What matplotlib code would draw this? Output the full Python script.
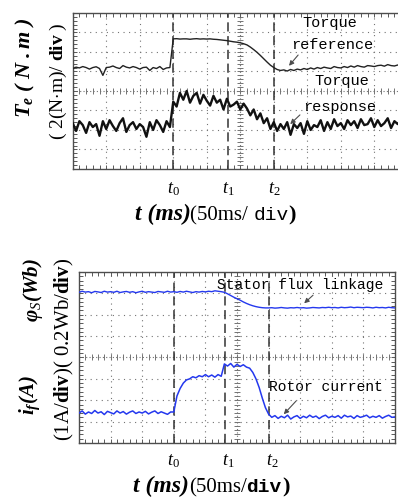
import numpy as np
import matplotlib
matplotlib.use("Agg")
import matplotlib.pyplot as plt

plt.rcParams["mathtext.fontset"] = "custom"
plt.rcParams["mathtext.rm"] = "Liberation Serif"
plt.rcParams["mathtext.it"] = "Liberation Serif:italic"
plt.rcParams["mathtext.bf"] = "Liberation Serif:bold"
plt.rcParams["mathtext.bfit"] = "Liberation Serif:italic:bold"

SERIF = "Liberation Serif"
MONO = "Liberation Mono"

# --- scope traces, in divisions (0 = bottom, 8 = top), sampled every 0.1 div ---
torque_ref = [
    5.15, 5.22, 5.18, 5.25, 5.20, 5.12, 5.20, 5.24, 5.15, 4.80,
    5.20, 5.22, 5.28, 5.20, 5.15, 5.30, 5.22, 5.18, 5.25, 5.20,
    5.12, 5.20, 5.22, 5.05, 5.20, 5.15, 5.25, 5.10, 5.18, 5.20,
    6.67, 6.68, 6.66, 6.67, 6.67, 6.65, 6.67, 6.68, 6.66, 6.67,
    6.66, 6.67, 6.65, 6.64, 6.62, 6.60, 6.58, 6.55, 6.52, 6.50,
    6.47, 6.42, 6.36, 6.25, 6.12, 5.98, 5.82, 5.65, 5.48, 5.32,
    5.20, 5.10, 5.05, 5.08, 5.02, 5.10, 5.05, 5.12, 5.08, 5.15,
    5.10, 5.18, 5.12, 5.20, 5.15, 5.22, 5.18, 5.15, 5.25, 5.20,
    5.18, 5.25, 5.20, 5.28, 5.22, 5.30, 5.25, 5.22, 5.30, 5.28,
    5.25, 5.30, 5.32, 5.27, 5.35, 5.30, 5.28, 5.33, 5.30, 5.35,
    5.30,
]
torque_resp = [
    2.35, 1.95, 2.45, 2.25, 1.85, 2.40, 2.15, 2.30, 1.70, 2.45,
    2.05, 2.50, 2.20, 1.95, 2.35, 2.60, 1.90, 2.25, 2.40, 2.05,
    2.30, 2.15, 1.65, 2.40, 2.00, 2.50, 2.25, 1.90, 2.45, 2.15,
    3.45, 3.20, 3.90, 3.55, 4.00, 3.40, 3.75, 3.90, 3.35, 3.80,
    3.50, 3.25, 3.75, 3.40, 3.55, 3.05, 3.60, 3.20, 3.30, 3.45,
    3.05, 3.35, 3.10, 2.75, 3.05, 2.55, 2.85, 2.35, 2.60, 2.05,
    2.40, 1.95, 2.30, 2.05, 2.40, 1.75, 2.30, 2.10, 2.35, 1.80,
    2.45, 2.00, 2.25, 2.15, 2.50, 1.95, 2.40, 2.05, 2.55, 2.20,
    2.35, 2.05, 2.50, 2.25, 2.45, 2.10, 2.55, 2.25, 2.30, 2.60,
    2.15, 2.50, 2.20, 2.35, 2.60, 2.10, 2.45, 2.30, 2.55, 2.15,
    2.40,
]
stator_flux = [
    7.05, 7.10, 7.06, 7.08, 7.03, 7.09, 7.07, 7.04, 7.10, 7.06,
    7.08, 7.05, 7.10, 7.04, 7.07, 7.09, 7.05, 7.08, 7.03, 7.07,
    7.10, 7.05, 7.08, 7.06, 7.04, 7.09, 7.07, 7.05, 7.10, 7.06,
    7.08, 7.05, 7.09, 7.06, 7.10, 7.07, 7.04, 7.08, 7.06, 7.09,
    7.07, 7.10, 7.08, 7.12, 7.10, 7.08, 7.05, 6.98, 6.90, 6.82,
    6.75, 6.68, 6.60, 6.53, 6.47, 6.42, 6.38, 6.35, 6.33, 6.32,
    6.32, 6.33, 6.31, 6.32, 6.34, 6.32, 6.31, 6.33, 6.32, 6.34,
    6.32, 6.33, 6.31, 6.32, 6.34, 6.33, 6.32, 6.34, 6.33, 6.35,
    6.33, 6.34, 6.32, 6.35, 6.33, 6.34, 6.36, 6.33, 6.35, 6.34,
    6.33, 6.35, 6.34, 6.32, 6.35, 6.33, 6.34, 6.32, 6.35, 6.33,
    6.32,
]
rotor_current = [
    1.40, 1.50, 1.35, 1.45, 1.38, 1.52, 1.40, 1.46, 1.33, 1.48,
    1.42, 1.36, 1.50, 1.40, 1.47, 1.35, 1.44, 1.50, 1.38, 1.45,
    1.40, 1.48, 1.36, 1.44, 1.50, 1.38, 1.46, 1.40, 1.34, 1.45,
    1.45, 2.20, 2.55, 2.80, 2.95, 3.00, 3.10, 3.05, 3.15, 3.10,
    3.20, 3.10, 3.18, 3.08, 3.20, 3.12, 3.70, 3.60, 3.72, 3.55,
    3.68, 3.58, 3.66, 3.55, 3.50, 3.30, 3.00, 2.60, 2.10, 1.65,
    1.35, 1.20, 1.28, 1.15, 1.25, 1.18, 1.30, 1.12, 1.22, 1.28,
    1.15, 1.25, 1.18, 1.30, 1.20, 1.26, 1.14, 1.24, 1.30, 1.18,
    1.25, 1.20, 1.28, 1.16, 1.30, 1.22, 1.26, 1.15, 1.28, 1.20,
    1.24, 1.30, 1.18, 1.25, 1.20, 1.28, 1.16, 1.24, 1.30, 1.20,
    1.22,
]
t_marks = [3.0, 4.62, 6.0]
t_names = ["$t_0$", "$t_1$", "$t_2$"]

BLUE = "#2438ee"


def scope_axes(ax):
    """Oscilloscope style grid: 10 x 8 divisions, dotted, with dense centre lines."""
    ax.set_xlim(0, 10)
    ax.set_ylim(0, 8)
    ax.set_xticks(np.arange(0, 11, 1))
    ax.set_yticks(np.arange(0, 9, 1))
    ax.set_xticks(np.arange(0, 10.01, 0.2), minor=True)
    ax.set_yticks(np.arange(0, 8.01, 0.2), minor=True)
    ax.tick_params(which="both", direction="in", length=3, width=0.7,
                   colors="0.35", labelleft=False, labelbottom=False,
                   top=True, right=True)
    for sp in ax.spines.values():
        sp.set_color("0.3")
        sp.set_linewidth(1.0)
    for x in range(1, 10):
        if x != 5:
            ax.axvline(x, color="0.45", lw=0.8, ls=(0, (1, 4)), zorder=1)
    for y in range(1, 8):
        if y != 4:
            ax.axhline(y, color="0.45", lw=0.8, ls=(0, (1, 4)), zorder=1)
    ax.axvline(5, color="0.45", lw=0.8, ls=(0, (1, 2)), zorder=1)
    ax.axhline(4, color="0.45", lw=0.8, ls=(0, (1, 2)), zorder=1)
    fine = np.arange(0, 10.01, 0.2)
    ax.plot(fine, np.full_like(fine, 4.0), ls="none", marker="|", ms=4,
            mew=0.7, color="0.45", zorder=1)
    fine_y = np.arange(0, 8.01, 0.2)
    ax.plot(np.full_like(fine_y, 5.0), fine_y, ls="none", marker="_", ms=4,
            mew=0.7, color="0.45", zorder=1)
    for tm in t_marks:
        ax.axvline(tm, color="0.2", lw=1.1, dashes=(6, 3), zorder=2)


def put_row(fig, pieces, x0, y):
    """Write text pieces one after another on a common baseline (figure coords)."""
    renderer = fig.canvas.get_renderer()
    x = x0
    for s, kw in pieces:
        t = fig.text(x, y, s, ha="left", va="baseline", **kw)
        x += t.get_window_extent(renderer=renderer).width / fig.bbox.width


fig = plt.figure(figsize=(3.98, 4.97), dpi=100)
time_top = np.linspace(0, 10, len(torque_ref))
time_bot = np.linspace(0, 10, len(stator_flux))

# --- top panel: torque ---
ax1 = fig.add_axes([0.1827, 0.660, 0.842, 0.314])
scope_axes(ax1)
ax1.plot(time_top, torque_ref, color="#222222", lw=1.0, zorder=3)
ax1.plot(time_top, torque_resp, color="#111111", lw=1.7, zorder=3)
ax1.text(7.68, 7.49, "Torque", family=MONO, fontsize=11, ha="center", va="center")
ax1.text(7.74, 6.36, "reference", family=MONO, fontsize=11, ha="center", va="center")
ax1.text(8.04, 4.51, "Torque", family=MONO, fontsize=11, ha="center", va="center")
ax1.text(7.98, 3.18, "response", family=MONO, fontsize=11, ha="center", va="center")
arrow = dict(arrowstyle="-|>", color="0.3", lw=0.8, mutation_scale=7)
ax1.annotate("", xy=(6.4, 5.18), xytext=(6.78, 5.95), arrowprops=arrow)
ax1.annotate("", xy=(6.43, 2.2), xytext=(6.84, 2.87), arrowprops=arrow)

# --- bottom panel: flux and rotor current ---
ax2 = fig.add_axes([0.1985, 0.1087, 0.794, 0.344])
scope_axes(ax2)
ax2.plot(time_bot, stator_flux, color=BLUE, lw=1.0, zorder=3)
ax2.plot(time_bot, rotor_current, color=BLUE, lw=1.1, zorder=3)
ax2.text(6.99, 7.38, "Stator flux linkage", family=MONO, fontsize=10.5,
         ha="center", va="center")
ax2.text(7.8, 2.62, "Rotor current", family=MONO, fontsize=10.5,
         ha="center", va="center")
ax2.annotate("", xy=(7.06, 6.45), xytext=(7.47, 7.0), arrowprops=arrow)
ax2.annotate("", xy=(6.42, 1.25), xytext=(6.93, 2.06), arrowprops=arrow)

# --- t0 / t1 / t2 markers under each panel ---
for xs, y in [([0.437, 0.573, 0.688], 0.612), ([0.437, 0.573, 0.684], 0.064)]:
    for xf, name in zip(xs, t_names):
        fig.text(xf, y, name, family=SERIF, fontsize=13, ha="center", va="baseline")

# --- time axis captions ---
bold_it = dict(family=SERIF, fontsize=17, fontweight="bold", fontstyle="italic")
put_row(fig, [("t (ms)", bold_it),
              ("(50ms/ ", dict(family=SERIF, fontsize=15)),
              ("div", dict(family=MONO, fontsize=14)),
              (")", dict(family=SERIF, fontsize=16, fontweight="bold"))],
        0.338, 0.557)
put_row(fig, [("t (ms)", bold_it),
              ("(50ms/", dict(family=SERIF, fontsize=15)),
              ("div", dict(family=MONO, fontsize=14, fontweight="bold")),
              (")", dict(family=SERIF, fontsize=16, fontweight="bold"))],
        0.334, 0.010)

# --- rotated channel labels ---
fig.text(0.063, 0.863, r"$\mathbfit{T}_{\mathbfit{e}}\ \mathbfit{(\ N\ .m\ )}$",
         rotation=90, fontsize=16, ha="center", va="center")
fig.text(0.146, 0.836, r"( 2(N$\cdot$m)/ $\mathbf{div}$ )", family=SERIF,
         rotation=90, fontsize=14, ha="center", va="center")
fig.text(0.083, 0.416, r"$\mathbfit{\varphi}_{S}\mathbfit{(Wb)}$",
         rotation=90, fontsize=15, ha="center", va="center")
fig.text(0.075, 0.205, r"$\mathbfit{i}_{\mathbfit{f}}\mathbfit{(A)}$",
         rotation=90, fontsize=15, ha="center", va="center")
fig.text(0.163, 0.296, r"(1A/$\mathbf{div}$)( 0.2Wb/$\mathbf{div}$)", family=SERIF,
         rotation=90, fontsize=15, ha="center", va="center")

fig.savefig("out.png", dpi=100)
